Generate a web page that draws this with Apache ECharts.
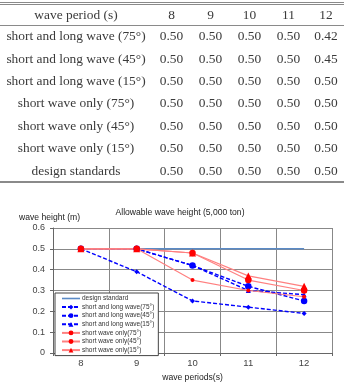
<!DOCTYPE html>
<html><head><meta charset="utf-8">
<script src="https://cdn.jsdelivr.net/npm/echarts@6/dist/echarts.min.js"></script>
<style>
html,body{margin:0;padding:0;background:#fff;width:344px;height:383px;overflow:hidden;}
#chart{position:absolute;left:0;top:0;width:344px;height:383px;}
#tblwrap{position:absolute;left:0;top:0;width:344px;height:190px;}
.rule{position:absolute;left:0;width:344px;background:#8a8a8a;}
table{position:absolute;left:0;top:5px;border-collapse:collapse;table-layout:fixed;width:344px;
 font-family:"Liberation Serif","DejaVu Serif",serif;font-size:13.4px;color:#3a3a3a;}
td{padding:0;text-align:center;white-space:nowrap;overflow:visible;}
tr.h td{height:20px;}
tr.r td{height:22.4px;}
</style></head>
<body>
<div id="chart"></div>
<div id="tblwrap">
 <div class="rule" style="top:1.5px;height:1.5px;"></div>
 <div class="rule" style="top:4px;height:1px;"></div>
 <div class="rule" style="top:24.5px;height:1px;"></div>
 <div class="rule" style="top:180.5px;height:2px;"></div>
 <table id="tbl"></table>
</div>
<script>
// ---- table data ----
var tableHeader = ['wave period (s)', '8', '9', '10', '11', '12'];
var tableLabels = ['short and long wave (75°)', 'short and long wave (45°)', 'short and long wave (15°)',
  'short wave only (75°)', 'short wave only (45°)', 'short wave only (15°)', 'design standards'];
var tableSL75 = ['0.50', '0.50', '0.50', '0.50', '0.42'];
var tableSL45 = ['0.50', '0.50', '0.50', '0.50', '0.45'];
var tableSL15 = ['0.50', '0.50', '0.50', '0.50', '0.50'];
var tableS75 = ['0.50', '0.50', '0.50', '0.50', '0.50'];
var tableS45 = ['0.50', '0.50', '0.50', '0.50', '0.50'];
var tableS15 = ['0.50', '0.50', '0.50', '0.50', '0.50'];
var tableDesign = ['0.50', '0.50', '0.50', '0.50', '0.50'];

// ---- chart data ----
var periods = [8, 9, 10, 11, 12];
var designStandard = [0.5, 0.5, 0.5, 0.5, 0.5];
var shortLong75 = [0.5, 0.39, 0.25, 0.22, 0.19];
var shortLong45 = [0.5, 0.5, 0.42, 0.32, 0.25];
var shortLong15 = [0.5, 0.5, 0.42, 0.30, 0.28];
var shortOnly75 = [0.5, 0.5, 0.35, 0.30, 0.27];
var shortOnly45 = [0.5, 0.5, 0.48, 0.35, 0.30];
var shortOnly15 = [0.5, 0.5, 0.48, 0.37, 0.32];
var seriesNames = ['design standard', 'short and long wave(75°)', 'short and long wave(45°)',
  'short and long wave(15°)', 'short wave only(75°)', 'short wave only(45°)', 'short wave only(15°)'];
var xTickBoundaries = [7.5, 8.5, 9.5, 10.5, 11.5, 12.5];

// build table
var widths = [152, 39, 39, 39, 39, 36];
var tbl = document.getElementById('tbl');
var cg = '<colgroup>' + widths.map(function (w) { return '<col style="width:' + w + 'px">'; }).join('') + '</colgroup>';
var html = cg + '<tr class="h">' + tableHeader.map(function (t) { return '<td>' + t + '</td>'; }).join('') + '</tr>';
var tableRows = [tableSL75, tableSL45, tableSL15, tableS75, tableS45, tableS15, tableDesign];
tableRows.forEach(function (row, i) {
  html += '<tr class="r"><td>' + tableLabels[i] + '</td>' + row.map(function (v) { return '<td>' + v + '</td>'; }).join('') + '</tr>';
});
tbl.innerHTML = html;

function pairs(vals) { return periods.map(function (p, i) { return [p, vals[i]]; }); }

var chart = echarts.init(document.getElementById('chart'), null, { renderer: 'canvas' });
var sans = 'Liberation Sans, Arial, sans-serif';
var blueDash = { color: '#0000ff', width: 1.4, type: [4, 2] };
var redLine = { color: '#ff8080', width: 1.2 };
var legendData = seriesNames.map(function (n, i) {
  return i === 0 ? { name: n, icon: 'path://M0,0 L18,0 L18,1.6 L0,1.6 Z' } : { name: n };
});
chart.setOption({
  animation: false,
  backgroundColor: 'transparent',
  title: [
    { text: 'Allowable wave height (5,000 ton)', left: 175, top: 203, textAlign: 'center',
      textStyle: { fontSize: 8.6, fontWeight: 'normal', color: '#222', fontFamily: sans } },
    { text: 'wave height (m)', left: 14, top: 208,
      textStyle: { fontSize: 8.6, fontWeight: 'normal', color: '#222', fontFamily: sans } }
  ],
  grid: { left: 53, right: 12, top: 228, bottom: 24, containLabel: false },
  legend: {
    orient: 'vertical', left: 55, top: 293, backgroundColor: '#fff', borderColor: '#444', borderWidth: 1,
    padding: [2, 4, 2, 6], itemWidth: 18, itemHeight: 6, itemGap: 1.6,
    textStyle: { fontSize: 6.5, color: '#333', fontFamily: sans, padding: [0, 0, 0, -3] },
    data: legendData
  },
  xAxis: {
    type: 'value', min: 7.5, max: 12.5, interval: 0.5,
    name: 'wave periods(s)', nameLocation: 'middle', nameGap: 20,
    nameTextStyle: { fontSize: 8.6, color: '#222', fontFamily: sans },
    axisLine: { lineStyle: { color: '#666' } },
    axisTick: { show: true, length: 3, customValues: xTickBoundaries, lineStyle: { color: '#666' } },
    axisLabel: { fontSize: 9.5, color: '#444', fontFamily: sans, margin: 5,
      formatter: function (v) { return Math.abs(v - Math.round(v)) < 1e-9 ? String(Math.round(v)) : ''; } },
    splitLine: { show: true, lineStyle: { color: '#888', width: 1 } }
  },
  yAxis: {
    type: 'value', min: 0, max: 0.6, interval: 0.1,
    axisLine: { show: true, lineStyle: { color: '#666' } },
    axisTick: { show: true, length: 3, lineStyle: { color: '#666' } },
    axisLabel: { fontSize: 9, color: '#444', fontFamily: sans, margin: 8,
      formatter: function (v) { return v === 0 ? '0' : v.toFixed(1); } },
    splitLine: { show: true, lineStyle: { color: '#888', width: 1 } }
  },
  series: [
    { name: seriesNames[0], type: 'line', data: pairs(designStandard), symbol: 'none',
      lineStyle: { color: '#5a8ac6', width: 1.5 }, itemStyle: { color: '#5a8ac6' } },
    { name: seriesNames[1], type: 'line', data: pairs(shortLong75), symbol: 'diamond', symbolSize: 5,
      lineStyle: blueDash, itemStyle: { color: '#0000ff' } },
    { name: seriesNames[2], type: 'line', data: pairs(shortLong45), symbol: 'circle', symbolSize: 6.5,
      lineStyle: blueDash, itemStyle: { color: '#0000ff' } },
    { name: seriesNames[3], type: 'line', data: pairs(shortLong15), symbol: 'triangle', symbolSize: 5,
      lineStyle: blueDash, itemStyle: { color: '#0000ff' } },
    { name: seriesNames[4], type: 'line', data: pairs(shortOnly75), symbol: 'circle', symbolSize: 4,
      lineStyle: redLine, itemStyle: { color: '#ff0000' } },
    { name: seriesNames[5], type: 'line', data: pairs(shortOnly45), symbol: 'circle', symbolSize: 6.5,
      lineStyle: redLine, itemStyle: { color: '#ff0000' } },
    { name: seriesNames[6], type: 'line', data: pairs(shortOnly15), symbol: 'triangle', symbolSize: 7,
      lineStyle: redLine, itemStyle: { color: '#ff0000' } }
  ]
});
</script>
</body></html>
